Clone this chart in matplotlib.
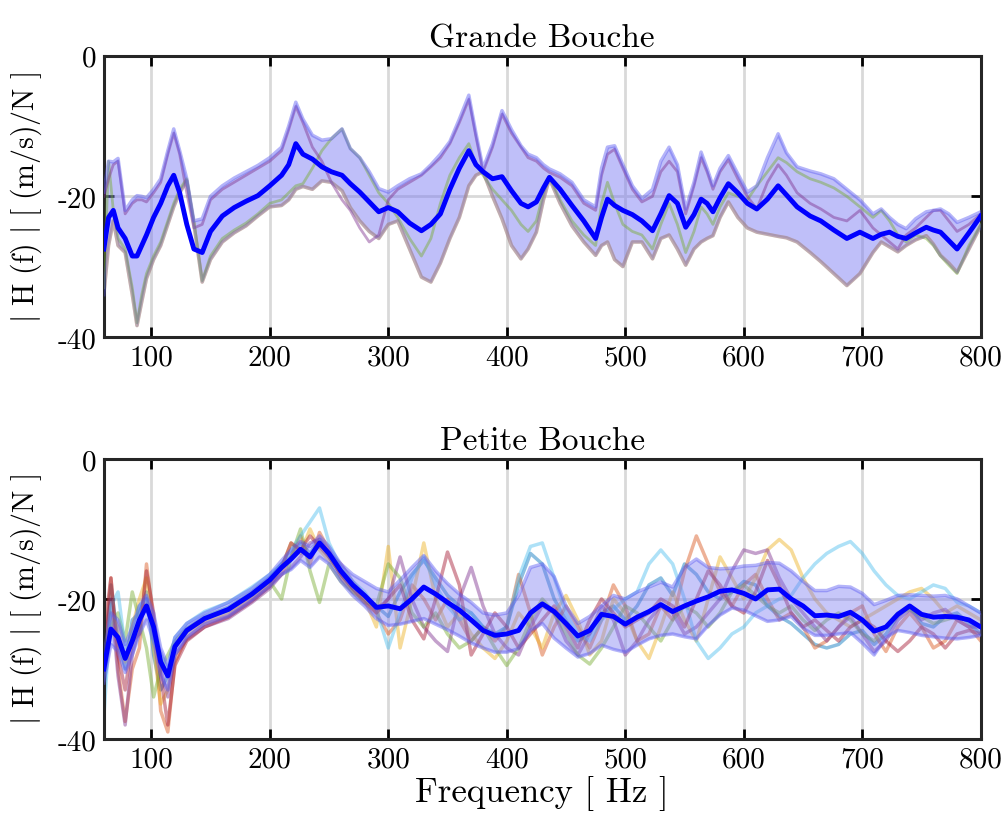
import numpy as np
import matplotlib
matplotlib.use('Agg')
import matplotlib.pyplot as plt

plt.rcParams['font.family'] = 'cmr10'
plt.rcParams['mathtext.fontset'] = 'cm'
plt.rcParams['axes.unicode_minus'] = False

# ---------------- Grande Bouche (top) ----------------
f_top = [60, 64, 68, 72, 78, 84, 88, 92, 96, 102,
         108, 114, 119, 124, 130, 136, 143, 150, 160, 170,
         180, 190, 200, 210, 216, 222, 228, 236, 244, 252,
         261, 268, 276, 284, 292, 300, 308, 318, 328, 336,
         344, 352, 360, 368, 374, 380, 388, 396, 404, 412,
         418, 425, 431, 436, 445, 455, 465, 475, 480, 485,
         491, 498, 506, 514, 523, 530, 537, 544, 551, 558,
         564, 569, 574, 580, 587, 595, 603, 611, 620, 629,
         636, 645, 656, 665, 676, 687, 698, 709, 716, 723,
         730, 737, 745, 754, 760, 766, 773, 780, 790, 800]

mean_top = [-27.5, -23, -22, -24.5, -26, -28.5, -28.5, -27, -25.5, -23,
            -21, -18.5, -17, -19.5, -24, -27.5, -28, -25, -22.8, -21.6,
            -20.7, -19.9, -18.5, -17, -15.5, -12.5, -14, -14.7, -15.8, -16.5,
            -17, -18.2, -19.4, -20.8, -22.2, -21.6, -22.2, -23.8, -24.9, -24,
            -22.5, -19, -16, -13.5, -15.5, -16.5, -17.5, -17.2, -19.2, -21,
            -21.5, -20.8, -18.8, -17.3, -19, -21.3, -23.5, -26, -23, -20.4,
            -21.3, -22, -22.6, -23.5, -24.9, -22.5, -19.9, -21, -24.4, -22.6,
            -20.4, -21, -22.2, -20.2, -18.2, -19.5, -21, -21.8, -20.4, -18.5,
            -19.8, -21.5, -22.8, -23.5, -24.8, -26, -25.1, -26, -25.4, -25.1,
            -25.7, -26, -25.2, -24.4, -24.8, -25.1, -26.3, -27.5, -25.2, -22.8]

upper_top = [-19.4, -15, -15.1, -14.6, -22, -20.5, -19.9, -20, -20.2, -19,
             -17.5, -13.5, -10.4, -13.5, -17.5, -23.5, -23.2, -20, -18.5, -17.4,
             -16.5, -15.6, -14.5, -13, -10, -6.6, -9, -11.3, -12, -11.8,
             -10.4, -13.2, -14.5, -16.5, -18.9, -19.4, -18.5, -17.5, -16.8, -15.5,
             -14, -12.2, -9, -5.6, -11, -16, -12.5, -7.8, -10.5, -12.8,
             -14, -14.5, -15.5, -16.1, -16.8, -18, -20.5, -21.5, -16, -13,
             -12.8, -15.5, -18.5, -20.3, -19, -15, -13, -15.5, -21.8, -18,
             -13.7, -16, -18.5, -16, -14.2, -16.8, -19.4, -18.5, -14.5, -11.1,
             -13.8, -15.8, -16.4, -16.8, -17.5, -19, -20.5, -22.5, -21.8, -23,
             -24, -24.6, -23.2, -22.2, -22, -21.8, -22.5, -23.7, -23, -22.2]

lower_top = [-34, -27, -23.5, -27, -28, -34, -38.4, -35, -31.7, -29,
             -27, -24, -21.5, -19.5, -17.8, -24, -32.2, -29, -26.5, -25.2,
             -24.2, -22.8, -21.5, -21.3, -20.5, -19, -18.6, -19, -17.8, -18,
             -19.2, -21.6, -23.5, -25, -26, -24, -23.5, -27.5, -31.5, -32.2,
             -29.5, -26, -23, -18.5, -17, -16.5, -20, -23.2, -27, -28.9,
             -27.5, -25.1, -20.5, -17.5, -21, -24.2, -26.5, -28.4, -27, -26.5,
             -29, -30, -26.5, -26.5, -28.9, -26, -25.5, -27.5, -29.8, -27.5,
             -26.5, -26, -25.6, -23, -20.8, -23, -24.5, -25.1, -25.4, -25.7,
             -25.9, -26.5, -28, -29.3, -31, -32.7, -31, -28, -26.5, -27.2,
             -27.9, -27, -26.2, -25.6, -26.8, -28.4, -29.5, -30.8, -27.5, -24.2]

purple_top = [-20, -17.5, -15.5, -15, -22.5, -21, -20.5, -20.5, -20.8, -19.5,
              -18, -14, -11, -14, -19.5, -24.5, -24, -20.5, -19, -18,
              -17, -16, -15, -13.5, -10.5, -7.2, -9.5, -13, -15, -18,
              -20.5, -22, -24.5, -26.5, -25.5, -20.5, -19, -18, -17, -15.8,
              -14.5, -12.5, -9.5, -6.2, -11.5, -16.5, -13, -8.3, -11, -13,
              -14.5, -15, -16, -16.6, -17.3, -18.5, -21, -22, -17, -14,
              -13.3, -16, -19, -20.8, -20, -16.5, -15, -16.5, -22.5, -18.5,
              -14.5, -16.5, -19, -16.5, -14.8, -17.5, -20, -21.8, -18, -15.5,
              -17, -19.5, -21, -21.8, -23, -23.5, -22, -24.5, -25.5, -26.5,
              -27.5, -25.5, -24.5, -23, -22, -22, -23.5, -25, -24, -22.5]

green_top = [-33, -15, -22, -26, -27.5, -33, -38, -34, -31, -28.5,
             -26.5, -23.5, -21, -19, -17.5, -23.5, -32, -28.5, -26, -24.8,
             -23.8, -22.5, -21, -20.5, -19.5, -18.5, -18.2, -16, -13.5, -11.8,
             -10.4, -13.2, -14.5, -17, -19.5, -21, -23, -26, -28.5, -26,
             -21, -17, -14.5, -12.5, -15.5, -17, -19, -20.5, -22, -24,
             -25, -23.5, -19.5, -17.3, -20.5, -23.5, -25.5, -27, -21, -18,
             -21, -24, -25, -25.5, -27.5, -24, -21, -24, -28, -25,
             -21.5, -22.5, -24, -21.5, -19.5, -20, -20.5, -18.5, -16.5, -14.5,
             -15.2, -16.5, -17.5, -18, -18.8, -20, -21.5, -23, -22, -23.5,
             -25.5, -26.5, -25.5, -26, -27, -28.5, -29.8, -31, -27, -24]

# ---------------- Petite Bouche (bottom) ----------------
f_bot = [60, 66, 72, 78, 84, 90, 96, 102, 108, 114,
         120, 130, 145, 165, 185, 200, 210, 218, 226, 234,
         242, 250, 260, 270, 280, 290, 300, 310, 320, 330,
         340, 350, 360, 370, 380, 390, 400, 410, 420, 430,
         440, 450, 460, 470, 480, 490, 500, 510, 520, 530,
         540, 550, 560, 570, 580, 590, 600, 610, 620, 630,
         640, 650, 660, 670, 680, 690, 700, 710, 720, 730,
         740, 750, 760, 770, 780, 790, 800]

mean_bot = [-30, -24.3, -25.5, -28.5, -26, -23, -21, -24, -29, -31,
            -26.8, -24.5, -22.8, -21.5, -19.3, -17.3, -15.5, -14.3, -12.9, -14,
            -12, -13.5, -16, -18, -19.5, -21.2, -21, -21.4, -20, -18.3,
            -19.3, -20.5, -21.6, -23, -24.5, -25.2, -25, -24.5, -22, -20.7,
            -21.8, -23.5, -25.3, -24.5, -22.2, -22.5, -23.6, -22.6, -21.8, -20.8,
            -21.8, -21, -20.3, -19.7, -18.9, -18.7, -19.2, -20, -18.7, -18.6,
            -20, -21, -22.4, -22.3, -22.5, -21.9, -23, -24.6, -24, -22.2,
            -21, -22.2, -22.6, -22.5, -22.6, -23, -24]

upper_bot = [-28, -22, -23, -26.5, -24, -21, -19.5, -22, -27, -29.5,
             -25.5, -23.5, -22, -20.5, -18.5, -16.5, -14.5, -13, -11.8, -12.5,
             -11, -12.5, -15, -16.5, -17.5, -18.5, -19, -17.3, -15.5, -13.8,
             -16, -17.8, -19.3, -20.5, -22, -22.3, -22, -19.5, -15.5, -15,
             -16.8, -21, -23.5, -22.5, -21, -19.5, -20, -19, -18.3, -17.6,
             -18.3, -15.5, -14.3, -15.5, -15.7, -15.6, -15.3, -15.2, -14.8, -14.9,
             -16, -17.5, -18.8, -18.8, -18.2, -18.3, -19.2, -20.8, -20.2, -19.5,
             -19.4, -19.5, -19.6, -19.5, -20, -21, -22]

lower_bot = [-32, -26.5, -27.5, -30.5, -28, -25, -23, -26, -31, -33,
             -28, -25.5, -23.6, -22.5, -20.2, -18.2, -16.5, -15.8, -14.5, -15.5,
             -14, -15, -17.5, -19.5, -21, -22.8, -23.8, -23.6, -23.2, -22.8,
             -23.6, -24.4, -25.3, -26.3, -27, -27.6, -27.6, -27.1, -24.5, -23.5,
             -25.6, -27, -28.3, -27.8, -26.6, -27.2, -27.6, -26.6, -25.7, -25.2,
             -25, -25.4, -25.7, -23.8, -22.3, -21.3, -21.6, -22.4, -23.2, -23,
             -22.5, -24.2, -25.2, -25.2, -25, -24.8, -26.3, -28, -25.5, -24.5,
             -24.8, -25.2, -25.4, -25.6, -25.7, -25.5, -25.2]

bot_lines = {
    '#0072BD': [-34, -18, -26, -30, -23, -22, -19, -28, -33, -31,
                -26.5, -24.2, -22.5, -21.2, -19, -17, -15, -14, -12, -13.5,
                -11.5, -14, -16.5, -18.5, -19.5, -21, -22.5, -19, -16.5, -14.5,
                -17, -19.5, -21, -22, -24, -25, -24, -18, -13.5, -15,
                -20, -23, -26, -25, -22, -21, -23, -21, -18, -17,
                -19.5, -15, -16.5, -19, -20, -19, -17.5, -18, -21, -22.5,
                -23.5, -25, -26.5, -27, -26.5, -25, -24.5, -26.5, -25, -22.5,
                -21, -23.5, -24, -22.5, -22, -23.5, -25],
    '#D95319': [-29, -17, -30, -37.5, -30, -27, -15, -23, -36, -39,
                -29, -25.5, -23.5, -22.3, -20, -18, -16.5, -14, -11, -15,
                -10.5, -13, -17, -19, -20, -22, -25, -23, -18, -20,
                -23, -20, -23, -26, -24, -26, -24, -16.5, -22, -28,
                -24, -21, -24, -27, -23, -18, -21, -26, -25, -21,
                -23, -16, -11, -15, -19, -21, -18, -16.5, -20, -23,
                -22, -24, -27, -26, -24, -22, -21, -25, -27.5, -24,
                -22, -24, -27, -26, -23, -24, -26],
    '#EDB120': [-31, -22, -24, -29, -24, -20, -17, -27, -35, -33,
                -27, -24.8, -23, -21.8, -19.5, -17.5, -15.5, -12, -13.5, -10,
                -13, -14.5, -16, -18, -20, -24, -12.5, -27, -20, -12,
                -20, -24, -22, -25, -27, -28.5, -26, -22, -24, -27,
                -22, -19.5, -23, -28, -26, -20, -22, -26, -28.5, -24,
                -19, -23, -26, -20, -14, -17, -20, -17, -13, -11.5,
                -13, -17, -20, -22, -23, -24, -23, -22, -21, -20,
                -19, -18.5, -20, -22, -21, -22, -23],
    '#7E2F8E': [-27, -20, -31, -38, -28, -24, -20, -25, -30, -34,
                -28, -25.8, -24, -22.8, -20.5, -18.5, -16.5, -15.5, -14, -12,
                -11.5, -13.5, -15, -17.5, -19.5, -21.5, -20, -14, -20, -24,
                -26, -27.5, -20, -15.5, -21, -25, -27, -28, -24, -21,
                -22, -26, -28, -25, -21, -23, -28, -26, -23, -21,
                -22, -25, -24, -22, -20, -16, -13, -13.5, -13, -17,
                -20, -22, -24, -26, -24, -22.5, -25, -27.5, -26, -23,
                -21.5, -23, -22, -21.5, -23, -24, -24],
    '#77AC30': [-30, -24, -22, -26, -19, -23, -27, -34, -30, -28,
                -26, -24.3, -22.8, -21.6, -19.4, -17.5, -20, -14, -10, -16,
                -20.5, -15, -17.5, -19, -20.5, -21, -15, -17, -22, -24,
                -22, -25, -27, -26, -24, -27, -29.5, -27, -23, -20,
                -22, -25, -28, -29.3, -27, -24, -21, -22, -24, -26,
                -23, -21, -22, -24, -22, -19, -18, -19.5, -21, -22,
                -21, -23, -24.5, -23, -22, -23, -25, -26, -24, -22,
                -21.5, -22.5, -23.5, -23, -22.5, -23, -24],
    '#4DBEEE': [-37, -21, -19, -27, -25, -21, -20, -26, -28, -30,
                -25.5, -23.5, -21.8, -20.5, -18.3, -16.5, -15, -13, -11, -9,
                -7, -12, -15.5, -17.5, -19, -21.5, -27, -22, -17, -14,
                -18, -21, -23, -22, -24, -25.5, -24, -17, -12.5, -12,
                -17, -22, -25, -26, -23, -21.5, -20, -19, -15, -13,
                -15, -20, -26, -28.5, -27, -25, -24, -22, -21, -20,
                -19.5, -17, -15, -13.5, -12.5, -11.8, -13.5, -16, -18, -19.5,
                -20, -19, -18, -18.5, -20.5, -21, -22],
    '#A2142F': [-25, -17, -28, -33, -26, -25, -16, -22, -31, -38,
                -29.5, -26, -24, -22.6, -20.3, -18.2, -15.5, -12, -13, -11,
                -12.5, -14, -16.5, -18.5, -20.5, -22, -20, -18, -23, -25.7,
                -20, -13.3, -18, -28, -25, -22, -24, -27, -25, -23,
                -21, -24, -27, -23, -20, -22, -24, -23, -22, -20,
                -21, -24, -20, -16, -18, -21, -22, -19, -14.5, -18,
                -22, -24, -23, -24.5, -26, -24, -23, -24, -26, -27.5,
                -26, -24, -25, -27, -25, -24.5, -25],
}

ylabel = r'$|\ \mathrm{H}\ (\mathrm{f})\ |\ [\ (\mathrm{m/s})/\mathrm{N}\ ]$'
xticks = [100, 200, 300, 400, 500, 600, 700, 800]
yticks = [-40, -20, 0]

fig = plt.figure(figsize=(10.08, 8.2), dpi=100)
ax1 = fig.add_axes([0.103, 0.588, 0.870, 0.3427])
ax2 = fig.add_axes([0.103, 0.0976, 0.870, 0.3415])


def style(ax, title):
    ax.set_xlim(60, 800)
    ax.set_ylim(-40, 0)
    ax.set_xticks(xticks)
    ax.set_xticklabels([str(t) for t in xticks])
    ax.set_yticks(yticks)
    ax.set_yticklabels(['-40', '-20', '0'])
    ax.grid(True, color='#d9d9d9', lw=2)
    ax.set_axisbelow(True)
    ax.tick_params(direction='in', top=True, right=True, length=7, width=2,
                   labelsize=21, pad=5)
    for s in ax.spines.values():
        s.set_linewidth(2.2)
        s.set_color('#262626')
    ax.set_title(title, fontsize=24, pad=7)
    ax.set_ylabel(ylabel, fontsize=21.5, labelpad=10)


# top panel
ax1.fill_between(f_top, lower_top, upper_top, color=(0.45, 0.45, 0.95), alpha=0.45, lw=0, zorder=2)
ax1.plot(f_top, lower_top, color='#EDB120', lw=2.5, alpha=0.5, zorder=2)
ax1.plot(f_top, green_top, color='#77AC30', lw=2, alpha=0.45, zorder=3)
ax1.plot(f_top, purple_top, color='#7E2F8E', lw=2, alpha=0.45, zorder=3)
ax1.plot(f_top, upper_top, color=(0.35, 0.35, 0.95), lw=2.5, alpha=0.45, zorder=3)
ax1.plot(f_top, lower_top, color=(0.35, 0.35, 0.95), lw=2.5, alpha=0.35, zorder=3)
ax1.plot(f_top, mean_top, color='#0000ff', lw=3.5, zorder=4)
style(ax1, 'Grande Bouche')

# bottom panel
for c, vals in bot_lines.items():
    ax2.plot(f_bot, vals, color=c, lw=2.5, alpha=0.45, zorder=2)
ax2.fill_between(f_bot, lower_bot, upper_bot, color=(0.45, 0.45, 0.95), alpha=0.4, lw=0, zorder=3)
ax2.plot(f_bot, upper_bot, color=(0.35, 0.35, 0.95), lw=2.5, alpha=0.45, zorder=3)
ax2.plot(f_bot, lower_bot, color=(0.35, 0.35, 0.95), lw=2.5, alpha=0.45, zorder=3)
ax2.plot(f_bot, mean_bot, color='#0000ff', lw=3.5, zorder=4)
style(ax2, 'Petite Bouche')
ax2.set_xlabel('Frequency [ Hz ]', fontsize=25, labelpad=2)

fig.savefig('out.png', dpi=100)
